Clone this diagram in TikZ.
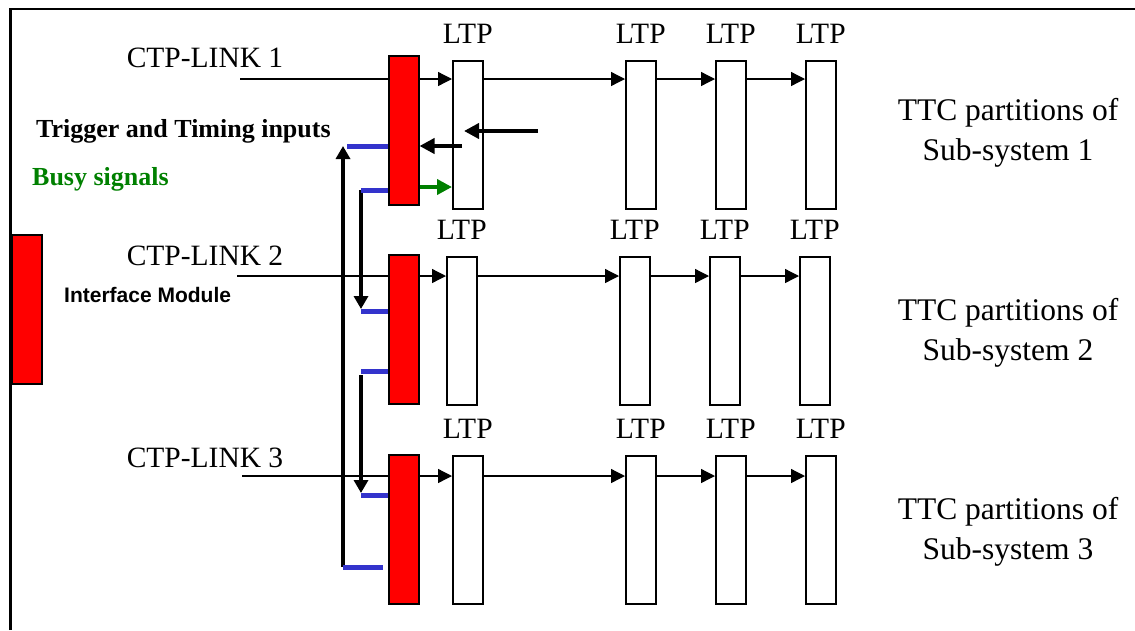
\documentclass[tikz,border=0pt]{standalone}
\usepackage{fontspec}
\setmainfont{Liberation Serif}
\newfontfamily\arialfont{Liberation Sans}
\usetikzlibrary{arrows.meta}
\definecolor{busygreen}{RGB}{0,128,0}
\definecolor{busblue}{RGB}{51,51,204}
\definecolor{modred}{RGB}{255,0,0}

\begin{document}
\begin{tikzpicture}[x=1pt,y=-1pt,
  redbox/.style={draw=black, fill=modred, line width=1.5pt, minimum width=30pt,
    minimum height=149pt, inner sep=0pt, anchor=north west},
  ltpbox/.style={draw=black, fill=white, line width=1.5pt, minimum width=30pt,
    minimum height=148pt, inner sep=0pt, anchor=north west},
  bigtext/.style={font=\fontsize{29.5}{34}\selectfont, inner sep=0pt, anchor=base},
  ttctext/.style={font=\fontsize{31.5}{38}\selectfont, inner sep=0pt, anchor=base},
  boldtext/.style={font=\fontsize{26}{30}\selectfont\bfseries, inner sep=0pt, anchor=base west},
  link/.style={line width=1.3pt},
  linkarrow/.style={line width=1.3pt, -{Triangle[length=14pt,width=14pt]}},
  thickarrow/.style={line width=4pt, -{Triangle[length=15pt,width=15pt]}},
  vertarrow/.style={line width=4pt, -{Triangle[length=13pt,width=14pt]}},
  busline/.style={line width=5pt, draw=busblue},
]
\useasboundingbox (0,0) rectangle (1135,630);

% frame
\draw[line width=2.5pt] (10.5,630) -- (10.5,9) -- (1135,9);

% interface module
\node[redbox] (im) at (11,234) {};
\node[font=\arialfont\fontsize{21}{25}\selectfont\bfseries, inner sep=0pt, anchor=base west]
  (imlabel) at (64,302) {Interface Module};

% side labels
\node[boldtext] (trig) at (36,137) {Trigger and Timing inputs};
\node[boldtext, text=busygreen] (busy) at (32,185) {Busy signals};

% ---------- row 1 ----------
\node[redbox] (r1) at (388,55) {};
\node[ltpbox] (l1a) at (452,60) {};
\node[ltpbox] (l1b) at (625,60) {};
\node[ltpbox] (l1c) at (715,60) {};
\node[ltpbox] (l1d) at (805,60) {};
\foreach \n in {l1a,l1b,l1c,l1d}
  \node[bigtext] (\n-lbl) at ([yshift=17pt]\n.north) {LTP};
\node[bigtext] (ctp1) at (205,67) {CTP-LINK 1};
\coordinate (s1) at (240,79);
\draw[link] (s1) -- (s1 -| r1.west);
\draw[linkarrow] (s1 -| r1.east) -- (s1 -| l1a.west);
\draw[linkarrow] (s1 -| l1a.east) -- (s1 -| l1b.west);
\draw[linkarrow] (s1 -| l1b.east) -- (s1 -| l1c.west);
\draw[linkarrow] (s1 -| l1c.east) -- (s1 -| l1d.west);
\node[ttctext] (ttc1a) at (1008,120) {TTC partitions of};
\node[ttctext] (ttc1b) at (1008,160) {Sub-system 1};

% ---------- row 2 ----------
\node[redbox] (r2) at (388,254) {};
\node[ltpbox] (l2a) at (446,256) {};
\node[ltpbox] (l2b) at (619,256) {};
\node[ltpbox] (l2c) at (709,256) {};
\node[ltpbox] (l2d) at (799,256) {};
\foreach \n in {l2a,l2b,l2c,l2d}
  \node[bigtext] (\n-lbl) at ([yshift=17pt]\n.north) {LTP};
\node[bigtext] (ctp2) at (205,265) {CTP-LINK 2};
\coordinate (s2) at (237,276);
\draw[link] (s2) -- (s2 -| r2.west);
\draw[linkarrow] (s2 -| r2.east) -- (s2 -| l2a.west);
\draw[linkarrow] (s2 -| l2a.east) -- (s2 -| l2b.west);
\draw[linkarrow] (s2 -| l2b.east) -- (s2 -| l2c.west);
\draw[linkarrow] (s2 -| l2c.east) -- (s2 -| l2d.west);
\node[ttctext] (ttc2a) at (1008,320) {TTC partitions of};
\node[ttctext] (ttc2b) at (1008,360) {Sub-system 2};

% ---------- row 3 ----------
\node[redbox] (r3) at (388,454) {};
\node[ltpbox] (l3a) at (452,455) {};
\node[ltpbox] (l3b) at (625,455) {};
\node[ltpbox] (l3c) at (715,455) {};
\node[ltpbox] (l3d) at (805,455) {};
\foreach \n in {l3a,l3b,l3c,l3d}
  \node[bigtext] (\n-lbl) at ([yshift=17pt]\n.north) {LTP};
\node[bigtext] (ctp3) at (205,467) {CTP-LINK 3};
\coordinate (s3) at (242,476);
\draw[link] (s3) -- (s3 -| r3.west);
\draw[linkarrow] (s3 -| r3.east) -- (s3 -| l3a.west);
\draw[linkarrow] (s3 -| l3a.east) -- (s3 -| l3b.west);
\draw[linkarrow] (s3 -| l3b.east) -- (s3 -| l3c.west);
\draw[linkarrow] (s3 -| l3c.east) -- (s3 -| l3d.west);
\node[ttctext] (ttc3a) at (1008,519) {TTC partitions of};
\node[ttctext] (ttc3b) at (1008,559) {Sub-system 3};

% ---------- trigger / busy signals around module 1 ----------
\coordinate (tin) at (538,131);
\coordinate (tinend) at (464,131);
\draw[thickarrow] (tin) -- (tinend);
\coordinate (tout) at (462,146);
\draw[thickarrow] (tout) -- (tout -| r1.east);
\coordinate (bsy) at (420,187);
\draw[thickarrow, draw=busygreen, fill=busygreen] (bsy) -- (bsy -| l1a.west);

% busy chain between the modules
\coordinate (b1) at (347,146);
\coordinate (b2) at (361,190);
\coordinate (b3) at (361,311);
\coordinate (b4) at (361,371);
\coordinate (b5) at (361,495);
\coordinate (b6) at (343,567);
\coordinate (b6end) at (383,567);

\draw[vertarrow] (b2) -- ([yshift=2pt]b3);
\draw[vertarrow] ([yshift=-4pt]b4) -- ([yshift=2pt]b5);
\draw[vertarrow] (b6) -- (b6 |- b1);

\draw[busline] (b1) -- (b1 -| r1.west);
\draw[busline] (b2) -- (b2 -| r1.west);
\draw[busline] (b3) -- (b3 -| r2.west);
\draw[busline] (b4) -- (b4 -| r2.west);
\draw[busline] (b5) -- (b5 -| r3.west);
\draw[busline] (b6) -- (b6end);
\end{tikzpicture}
\end{document}
